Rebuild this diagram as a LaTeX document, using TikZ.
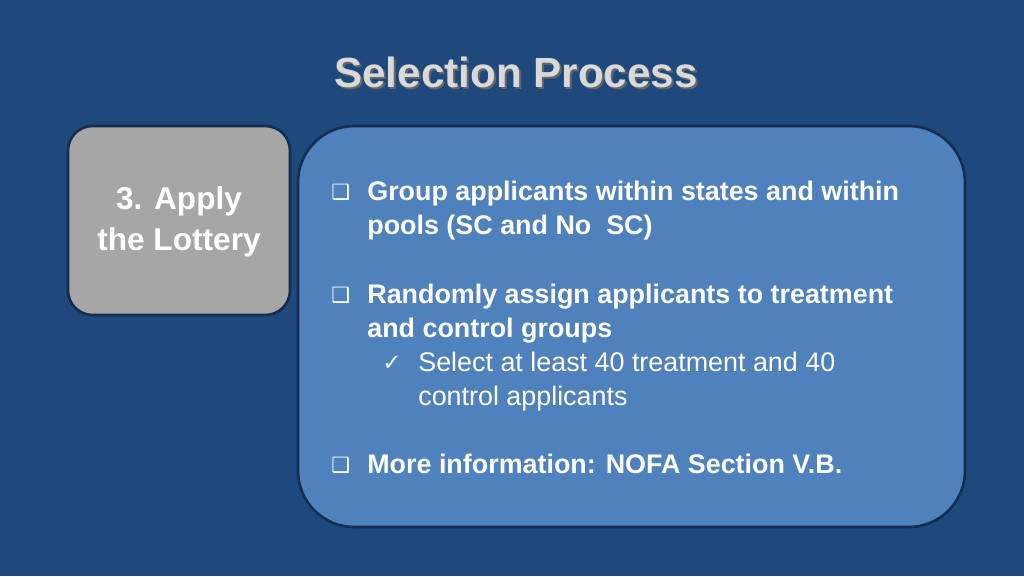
\documentclass[tikz,border=0pt]{standalone}
\usepackage{fontspec}
\setmainfont{Liberation Sans}
\newfontfamily\dvs{DejaVu Sans}
\definecolor{bg}{RGB}{31,73,125}
\definecolor{bluebox}{RGB}{79,129,189}
\definecolor{edge}{RGB}{20,45,80}
\definecolor{graybox}{RGB}{166,166,166}
\definecolor{titlec}{RGB}{217,217,217}
\begin{document}
\begin{tikzpicture}[x=0.02cm,y=-0.02cm,
  txt/.style={anchor=base west,inner sep=0pt,text=white,font=\fontsize{15.3}{18}\selectfont\bfseries},
  sub/.style={anchor=base west,inner sep=0pt,text=white,font=\fontsize{15.3}{18}\selectfont},
  bul/.style={anchor=base west,inner sep=0pt,text=white,font=\dvs\fontsize{12}{14}\selectfont}]
\fill[bg] (0,0) rectangle (1024,576);
\useasboundingbox (0,0) rectangle (1024,576);
\node[text=black!60,font=\fontsize{24}{28}\selectfont\bfseries] at (518,74) {Selection Process};
\node (title) [text=titlec,font=\fontsize{24}{28}\selectfont\bfseries] at (516,72) {Selection Process};
\draw[edge,line width=1.5pt,fill=graybox,rounded corners=14pt] (68,126) rectangle (290,315);
\node (lot) [text=white,align=center,font=\fontsize{18}{23}\selectfont\bfseries] at (179,222) {3. Apply\\the Lottery};
\draw[edge,line width=1.5pt,fill=bluebox,rounded corners=32pt] (298,126) rectangle (965,527);
\node (b1) [bul] at (331,199) {❑};
\node (t1) [txt] at (367,200) {Group applicants within states and within};
\node (t1b) [txt] at (367,234) {pools (SC and No\ \ SC)};
\node (b2) [bul] at (331,302) {❑};
\node (t2) [txt] at (367,303) {Randomly assign applicants to treatment};
\node (t2b) [txt] at (367,337) {and control groups};
\node (c1) [bul,font=\dvs\fontsize{13}{14}\selectfont] at (382,370) {✓};
\node (s1) [sub] at (418,371) {Select at least 40 treatment and 40};
\node (s1b) [sub] at (418,405) {control applicants};
\node (b3) [bul] at (331,472) {❑};
\node (t3) [txt] at (367,473) {More information: NOFA Section V.B.};
\end{tikzpicture}
\end{document}
